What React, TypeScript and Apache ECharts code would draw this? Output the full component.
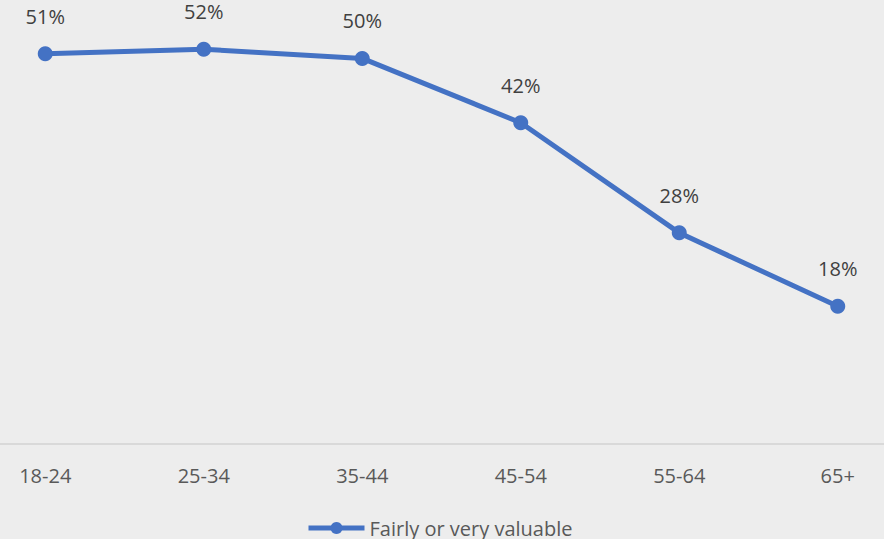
import React, { useEffect, useRef } from "react";
import * as echarts from "echarts";

const categories = ["18-24", "25-34", "35-44", "45-54", "55-64", "65+"];
const values = [51, 51.6, 50.4, 42, 27.6, 18];
const seriesName = "Fairly or very valuable";

export default function App() {
  const ref = useRef<HTMLDivElement>(null);
  useEffect(() => {
    if (!ref.current) return;
    const chart = echarts.init(ref.current, null, { renderer: "svg" });
    chart.setOption({
      animation: false,
      backgroundColor: "#ededed",
      textStyle: { fontFamily: "Open Sans" },
      grid: { left: 0, right: 0, top: 0, bottom: 95, containLabel: false },
      xAxis: {
        type: "category",
        data: categories,
        boundaryGap: true,
        axisLine: { lineStyle: { color: "#d9d9d9", width: 2 } },
        axisTick: { show: false },
        axisLabel: { color: "#595959", fontSize: 20, margin: 21, fontFamily: "Open Sans" },
      },
      yAxis: {
        type: "value",
        min: 0,
        max: 60,
        show: false,
        splitLine: { show: false },
      },
      legend: {
        left: 340,
        top: 533,
        padding: 0,
        itemWidth: 56,
        itemHeight: 15,
        itemGap: 10,
        lineStyle: { width: 5 },
        textStyle: { color: "#595959", fontSize: 20, fontFamily: "Open Sans" },
        data: [{ name: seriesName, lineStyle: { width: 5 } }],
      },
      series: [
        {
          name: seriesName,
          type: "line",
          data: values,
          symbol: "circle",
          symbolSize: 15,
          itemStyle: { color: "#4472c4" },
          lineStyle: { color: "#4472c4", width: 5 },
          label: {
            show: true,
            position: "top",
            distance: 20,
            color: "#404040",
            fontSize: 20,
            fontFamily: "Open Sans",
            formatter: (p: any) => Math.round(p.value) + "%",
          },
        },
      ],
    });
    return () => chart.dispose();
  }, []);
  return (
    <div
      ref={ref}
      style={{ position: "fixed", left: -34, top: -15, width: 951, height: 554 }}
    />
  );
}
